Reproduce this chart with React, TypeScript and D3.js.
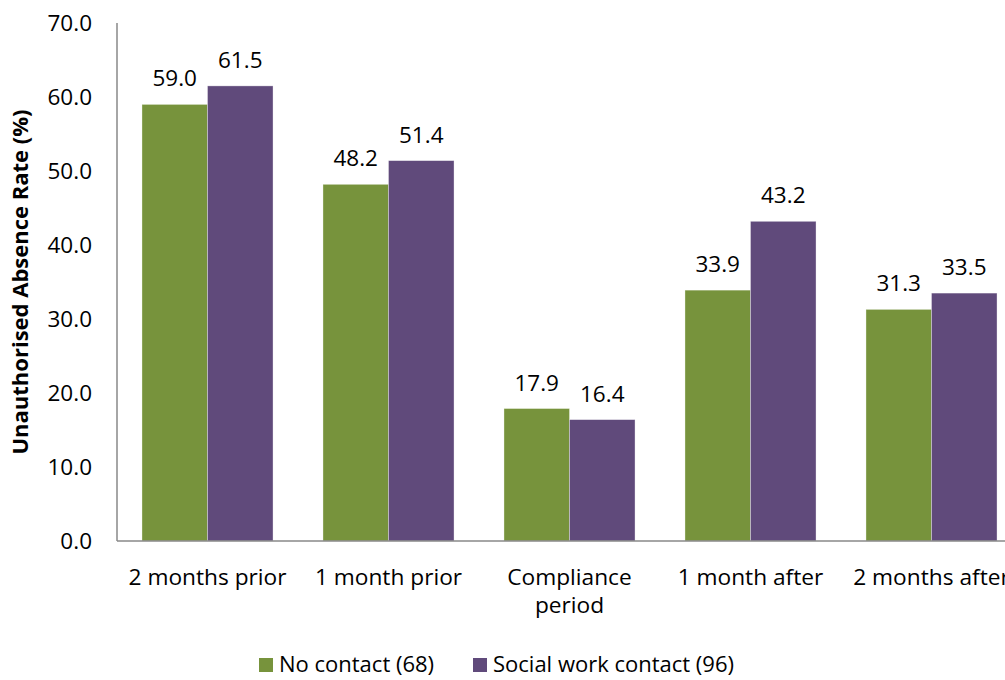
import React from "react";
import * as d3 from "d3";

const categories: string[][] = [
  ["2 months prior"],
  ["1 month prior"],
  ["Compliance", "period"],
  ["1 month after"],
  ["2 months after"],
];
const seriesNames = ["No contact (68)", "Social work contact (96)"];
const noContact = [59.0, 48.2, 17.9, 33.9, 31.3];
const socialWork = [61.5, 51.4, 16.4, 43.2, 33.5];
const colors = ["#77933C", "#604A7B"];
const yTicks = [0, 10, 20, 30, 40, 50, 60, 70];

const W = 1005;
const H = 680;
const FONT = "'Open Sans', 'DejaVu Sans', sans-serif";

export default function App() {
  const left = 117;
  const top = 23;
  const bottom = 541;
  const bandW = 181;

  const y = d3.scaleLinear().domain([0, 70]).range([bottom, top]);
  const x0 = d3
    .scaleBand<number>()
    .domain(categories.map((_, i) => i))
    .range([left, left + bandW * categories.length])
    .paddingInner(0.276)
    .paddingOuter(0.138);
  const x1 = d3
    .scaleBand<number>()
    .domain([0, 1])
    .range([0, x0.bandwidth()]);

  const series = [noContact, socialWork];

  return (
    <svg
      width={W}
      height={H}
      style={{ position: "absolute", left: 0, top: 0, background: "#fff" }}
      fontFamily={FONT}
    >
      {/* y tick labels */}
      {yTicks.map((t) => (
        <text
          key={t}
          x={92}
          y={y(t)}
          dy="0.36em"
          textAnchor="end"
          fontSize={22.5}
          fill="#000"
        >
          {d3.format(".1f")(t)}
        </text>
      ))}

      {/* y axis title */}
      <text
        transform={`translate(28,${(top + bottom) / 2}) rotate(-90)`}
        textAnchor="middle"
        fontSize={22}
        fontWeight="bold"
        fill="#000"
      >
        Unauthorised Absence Rate (%)
      </text>

      {/* bars */}
      {categories.map((_, ci) =>
        series.map((vals, si) => {
          const bx = (x0(ci) ?? 0) + (x1(si) ?? 0);
          const by = y(vals[ci]);
          return (
            <g key={`${ci}-${si}`}>
              <rect
                x={bx}
                y={by}
                width={x1.bandwidth()}
                height={bottom - by}
                fill={colors[si]}
                stroke="rgba(255,255,255,0.45)"
                strokeWidth={0.75}
              />
              <text
                x={bx + x1.bandwidth() / 2}
                y={by - 18}
                textAnchor="middle"
                fontSize={22.5}
                fill="#000"
              >
                {d3.format(".1f")(vals[ci])}
              </text>
            </g>
          );
        })
      )}

      {/* axis lines */}
      <line x1={left} x2={left} y1={top} y2={bottom} stroke="#888" strokeWidth={1.5} />
      <line x1={left} x2={W + 20} y1={bottom} y2={bottom} stroke="#888" strokeWidth={1.5} />

      {/* x category labels */}
      {categories.map((lines, ci) => (
        <text
          key={ci}
          x={left + bandW * ci + bandW / 2}
          y={585}
          textAnchor="middle"
          fontSize={22.7}
          fill="#000"
        >
          {lines.map((l, li) => (
            <tspan key={li} x={left + bandW * ci + bandW / 2} dy={li === 0 ? 0 : 28}>
              {l}
            </tspan>
          ))}
        </text>
      ))}

      {/* legend */}
      {seriesNames.map((name, si) => {
        const lx = si === 0 ? 259 : 473;
        return (
          <g key={name}>
            <rect x={lx} y={658} width={14} height={14} fill={colors[si]} />
            <text x={lx + 20} y={672} fontSize={22} fill="#000">
              {name}
            </text>
          </g>
        );
      })}
    </svg>
  );
}
